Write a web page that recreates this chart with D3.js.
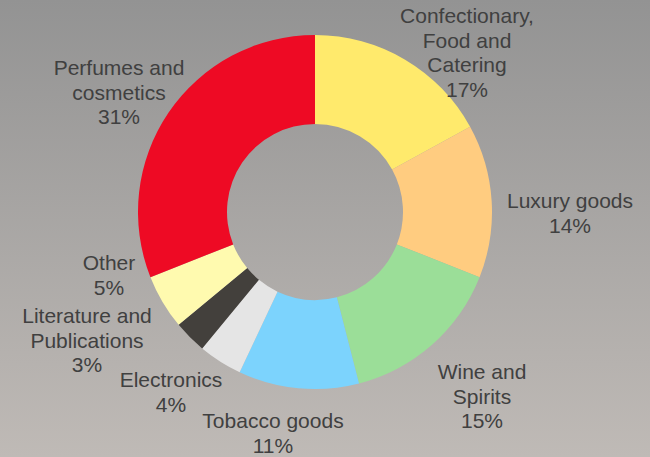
<!DOCTYPE html>
<html>
<head>
<meta charset="utf-8">
<script src="https://cdn.jsdelivr.net/npm/d3@7"></script>
<style>
  html, body { margin: 0; padding: 0; }
  svg { display: block; }
  text { font-family: "Liberation Sans", Arial, sans-serif; }
</style>
</head>
<body>
<script>
// Sales share by category (percent), clockwise from 12 o'clock
const categories = [
  ["Confectionary,", "Food and", "Catering"],
  ["Luxury goods"],
  ["Wine and", "Spirits"],
  ["Tobacco goods"],
  ["Electronics"],
  ["Literature and", "Publications"],
  ["Other"],
  ["Perfumes and", "cosmetics"]
];
const values = [17, 14, 15, 11, 4, 3, 5, 31];
const colors = ["#ffea6c", "#ffcc80", "#9bde98", "#7cd3fd", "#e5e5e5", "#43403c", "#fffaaf", "#ee0a24"];

// Label anchor points (centre x, first baseline y)
const labelPos = [
  [467, 23], [570, 208], [482, 379], [273, 428],
  [171, 387], [87, 323], [109, 270], [119, 75]
];

const W = 650, H = 457;
const cx = 315, cy = 212, rOuter = 177, rInner = 88;
const lineH = 24.6;

const svg = d3.select("body").append("svg").attr("width", W).attr("height", H);

const grad = svg.append("defs").append("linearGradient")
  .attr("id", "bg").attr("x1", 0).attr("y1", 0).attr("x2", 0).attr("y2", 1);
grad.append("stop").attr("offset", "0%").attr("stop-color", "#939393");
grad.append("stop").attr("offset", "100%").attr("stop-color", "#bfbab6");
svg.append("rect").attr("width", W).attr("height", H).attr("fill", "url(#bg)");

const pie = d3.pie().sort(null).value(d => d);
const arc = d3.arc().innerRadius(rInner).outerRadius(rOuter);

svg.append("g").attr("transform", `translate(${cx},${cy})`)
  .selectAll("path")
  .data(pie(values))
  .join("path")
  .attr("d", arc)
  .attr("fill", (d, i) => colors[i]);

const labels = svg.append("g")
  .selectAll("text")
  .data(values.map((v, i) => ({ lines: [...categories[i], v + "%"], pos: labelPos[i] })))
  .join("text")
  .attr("text-anchor", "middle")
  .attr("font-size", 21)
  .attr("fill", "#404040");

labels.selectAll("tspan")
  .data(d => d.lines.map((t, j) => ({ t, j, pos: d.pos })))
  .join("tspan")
  .attr("x", d => d.pos[0])
  .attr("y", d => d.pos[1] + d.j * lineH)
  .text(d => d.t);
</script>
</body>
</html>
